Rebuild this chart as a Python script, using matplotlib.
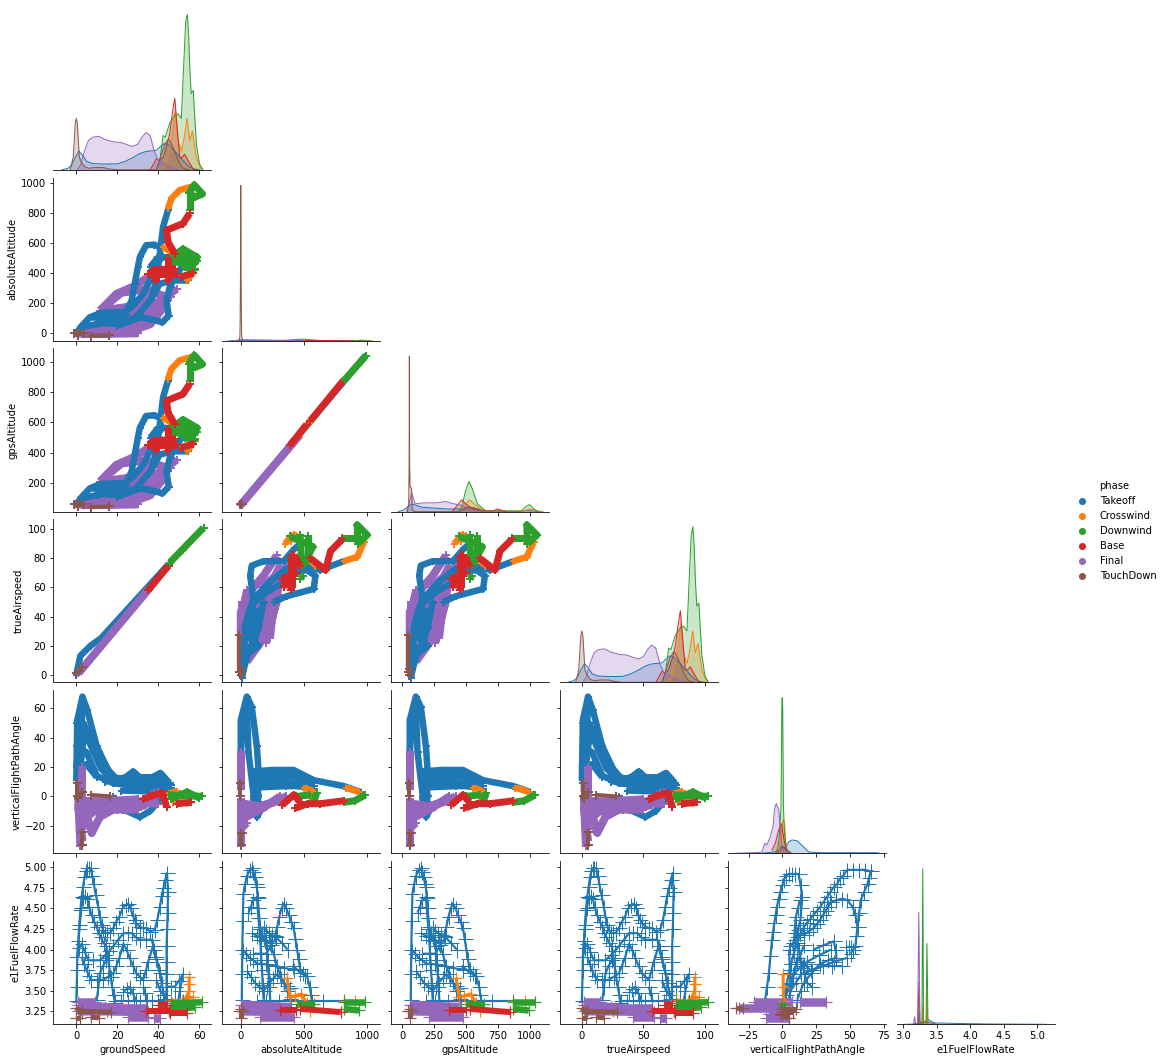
import matplotlib
matplotlib.use("Agg")
import matplotlib.pyplot as plt
from matplotlib.lines import Line2D

PHASES = ["Takeoff", "Crosswind", "Downwind", "Base", "Final", "TouchDown"]
COLORS = ["#1f77b4", "#ff7f0e", "#2ca02c", "#d62728", "#9467bd", "#8c564b"]
VARS = ["groundSpeed", "absoluteAltitude", "gpsAltitude", "trueAirspeed", "verticalFlightPathAngle", "e1FuelFlowRate"]
XTICKS = [[0, 20, 40, 60], [0, 500, 1000], [0, 250, 500, 750, 1000], [0, 50, 100], [-25, 0, 25, 50, 75], [3.0, 3.5, 4.0, 4.5, 5.0]]
YTICKS = [[], [0, 200, 400, 600, 800, 1000], [200, 400, 600, 800, 1000], [0, 20, 40, 60, 80, 100], [-20, 0, 20, 40, 60], [3.25, 3.5, 3.75, 4.0, 4.25, 4.5, 4.75, 5.0]]
XLIMS = [(-11.2, 65.8), (-146, 1103), (-87, 1155), (-17.9, 110.4), (-40, 76.9), (2.9, 5.26)]
YLIMS = [(0, 105), (-50.7, 1033), (11, 1088.6), (-5.2, 107), (-38.8, 72.5), (3.092, 5.077)]
GPS_OFFSET = 58
TAS_PER_GS = 5 / 3

# ---- density curves (x, relative density) ----
kde_gs_takeoff = [(-7, 0), (-4, 1), (-2.3, 3), (-0.5, 8), (1.3, 12), (3, 9.5), (5, 5.5), (8, 4), (14, 3.7), (20, 3.8), (24, 5.5), (27.7, 8), (31, 10.5), (34, 11.8), (39, 12.5), (41, 15), (43, 17), (45, 16), (47, 13.5), (50, 9), (52, 6), (55, 2), (57, 0.6), (60, 0)]
kde_gs_crosswind = [(42.3, 0), (44, 5), (45.5, 12), (47, 25), (48.3, 38), (49.5, 19), (51.2, 12), (52.5, 20), (54, 33), (55.3, 19), (56.6, 25), (58.5, 8), (60.5, 1), (61.5, 0)]
kde_gs_downwind = [(39, 0), (40.7, 6), (42.3, 22), (43.4, 21), (45.5, 30), (48, 35), (49.6, 36), (51.2, 33), (52.3, 66), (53.3, 95), (54.1, 100), (54.8, 85), (55.3, 66), (56, 49), (57, 51), (58.5, 17), (60, 4), (61.7, 0)]
kde_gs_base = [(36, 0), (37.4, 3), (39, 7), (40.5, 6), (42.3, 8), (44, 15), (45.5, 23), (47, 38), (48, 46), (49, 30), (50.4, 8), (51.5, 8), (52.8, 10), (55.3, 4), (57, 0.5), (58, 0)]
kde_gs_final = [(0.5, 0), (2, 3), (3, 8), (4.5, 14), (6, 19), (8, 21), (11, 21.5), (14, 19.5), (18, 18), (22, 17.5), (25, 16), (27.5, 15), (30, 16.5), (32, 21), (34, 24), (36, 22), (38, 12), (40, 6), (42, 5), (44, 3), (47, 1), (50, 0)]
kde_gs_touchdown = [(-3, 0), (-1.5, 8), (-0.5, 30), (0, 33), (0.5, 30), (1.5, 8), (2.5, 5), (4, 2), (6, 1), (9, 1.5), (13, 1.5), (16, 0.5), (20, 0), (39, 0), (41, 8), (43, 16), (45, 20), (47, 15), (50, 5), (52, 1), (55, 0)]

kde_alt_takeoff = [(-100, 0), (0, 0.5), (300, 0.3), (1000, 0.2), (1040, 0)]
kde_alt_crosswind = [(400, 0), (500, 0.3), (700, 0.1), (900, 0.1), (950, 0.6), (1040, 0)]
kde_alt_downwind = [(300, 0), (450, 1), (500, 1.2), (600, 0.5), (700, 0.1), (850, 0.1), (950, 0.4), (1020, 0)]
kde_alt_base = [(300, 0), (400, 0.5), (500, 0.3), (800, 0.1), (900, 0)]
kde_alt_final = [(-60, 0), (0, 0.9), (200, 0.6), (400, 0.4), (500, 0)]
kde_alt_touchdown = [(-15, 0), (-7, 3), (-5, 13), (-2.5, 40), (0, 100), (2.5, 40), (5, 13), (7, 3), (15, 0)]

kde_gps_takeoff = [(-32, 0), (8, 1), (74, 5), (153, 2.8), (352, 1.7), (484, 1.7), (524, 3), (590, 1.7), (670, 0.4), (881, 0.2), (1000, 0.6), (1090, 0)]
kde_gps_crosswind = [(444, 0), (484, 4), (529, 7.5), (563, 5), (616, 1.7), (656, 0.2), (960, 0.6), (1000, 1.7), (1066, 0.4), (1105, 0)]
kde_gps_downwind = [(444, 0), (471, 4), (497, 13.5), (524, 19.4), (550, 14.6), (590, 5), (656, 0.4), (934, 0.2), (966, 3), (1000, 4.5), (1034, 1.7), (1066, 0)]
kde_gps_base = [(392, 0), (431, 4), (466, 7.5), (497, 5), (550, 1.7), (616, 0.4), (709, 0.4), (749, 1.7), (788, 0.6), (815, 0)]
kde_gps_final = [(34, 0), (74, 12), (100, 5), (167, 5.6), (272, 5.6), (339, 6.5), (405, 5), (470, 4), (537, 1), (616, 0)]
kde_gps_touchdown = [(40, 0), (50, 5), (53, 30), (55, 100), (57, 30), (60, 16), (72, 15), (78, 2), (90, 0), (450, 0), (500, 2.5), (560, 2.5), (640, 0)]

kde_vfpa_takeoff = [(-16, 0), (-4, 1), (0, 5), (2.3, 3), (4.7, 7.5), (7.2, 8.6), (11, 8), (14.6, 5), (19.6, 0.8), (28, 0.4), (70, 0.4), (72, 0)]
kde_vfpa_crosswind = [(-2.7, 0), (-1.5, 8.6), (0.5, 21.5), (1.5, 20), (2.7, 4), (4.7, 0)]
kde_vfpa_downwind = [(-5, 0), (-3, 5), (-2, 14), (-1, 30), (-0.4, 95), (-0.1, 100), (0.2, 95), (0.8, 30), (1.5, 14), (3, 3), (5, 0)]
kde_vfpa_base = [(-7.7, 2), (-5.2, 6.5), (-2.7, 15), (-0.7, 19), (1, 10), (2.7, 2), (6, 0)]
kde_vfpa_final = [(-35, 0), (-16, 0.6), (-15, 1), (-13, 6.5), (-11.4, 5.4), (-9, 10.7), (-7, 17), (-5.7, 29), (-4.5, 32), (-2.7, 28), (-1.5, 15), (0, 3), (3.5, 1), (7, 0)]
kde_vfpa_touchdown = [(-4, 0), (0, 4), (3.5, 2), (7, 0)]

kde_fuel_takeoff = [(3.02, 0), (3.25, 0.2), (3.3, 1), (3.36, 3.4), (3.46, 0.9), (3.75, 0.6), (4.25, 0.2), (5.14, 0)]
kde_fuel_crosswind = [(3.27, 0), (3.285, 0), (3.292, 12), (3.3, 0), (3.345, 0), (3.355, 20), (3.365, 0), (3.4, 0)]
kde_fuel_downwind = [(3.225, 0), (3.237, 9), (3.25, 0), (3.28, 0), (3.292, 100), (3.304, 0), (3.34, 0), (3.355, 52), (3.37, 0)]
kde_fuel_base = [(3.22, 0), (3.235, 27), (3.25, 0), (3.3, 0)]
kde_fuel_final = [(3.155, 0), (3.17, 5), (3.185, 0), (3.215, 0), (3.233, 72), (3.25, 0)]
kde_fuel_touchdown = [(3.15, 0), (3.2, 0.5), (3.3, 1.5), (3.4, 1), (3.5, 0)]

# ---- strands ----
gs_alt_takeoff = [
    [(0.5, 5), (2, 40), (6.6, 107), (12, 135), (18, 140), (24, 140), (27, 218), (28.5, 330), (30, 440), (31, 507), (34, 584), (38, 589), (42, 562)],
    [(2, 40), (10, 62), (18, 84), (27.7, 184), (32.6, 262), (37.4, 395), (39, 495), (44, 507)],
    [(37, 250), (39, 350), (40.7, 529), (42.3, 707), (44.7, 818)],
    [(12, 70), (22, 60), (31, 107), (36, 96), (42, 73), (45, 118), (44, 218), (45.5, 307), (49, 395), (52, 451)],
    [(20, 51), (29, 107), (36, 218), (40.7, 329), (47, 351), (54.5, 351)],
    [(6.6, 107), (14, 100), (20, 100), (24, 120)],
    [(36, 440), (39, 490), (42, 500)],
]
gs_alt_crosswind = [[(44.7, 829), (46.4, 895), (50.4, 951), (56, 973)], [(42.3, 573), (45, 550), (49, 518)], [(54, 351), (57.7, 418)], [(47, 500), (52, 510)]]
gs_alt_downwind = [[(55.3, 818), (55.3, 929)], [(55.3, 940), (57.5, 985), (61.5, 925), (58, 905), (55, 930)], [(46, 500), (52, 560), (59, 505), (53, 440), (58, 430)], [(46, 520), (55, 500), (58, 470), (50, 490), (57.5, 418)], [(47, 470), (59, 480)], [(50, 540), (56, 450)]]
gs_alt_base = [[(55.3, 796), (52, 729), (44, 684), (44.7, 607), (48, 529)], [(35, 395), (49, 395)], [(39, 350), (39, 420)], [(44.5, 350), (44.5, 500)], [(51, 375), (57, 400)], [(37, 420), (48, 430)]]
gs_alt_final = [
    [(0, 0), (16, -4), (29, 29), (39, 151), (45.5, 262), (49, 296)],
    [(11.5, 151), (19.6, 262), (29, 318), (35, 373)],
    [(11.5, 151), (24, 173), (27.7, 140), (39, 307), (38, 380)],
    [(3, 7), (18, 62), (31, 173), (39, 307)],
    [(27.7, 20), (36, 60), (43, 180)],
    [(12, 30), (25, 50), (33, 110)],
    [(14, 180), (22, 270), (33, 290), (45, 240)],
    [(22, 60), (30, 100), (38, 200), (46, 240)],
    [(3, -5), (30, 0)],
]
gs_alt_touchdown = [[(1, -10), (1, 10)], [(-1, 3), (4, 3)], [(7, -17), (16, -12)]]

alt_tas_takeoff = [
    [(10, -2), (21, 3), (34, 34), (100, 52), (74, 68), (87, 75), (180, 78), (339, 78), (418, 86), (458, 89)],
    [(21, 3), (61, 16), (140, 32), (180, 50)],
    [(100, 40), (74, 25), (140, 20), (50, 14)],
    [(110, 45), (130, 30), (95, 18)],
    [(100, 52), (233, 64), (365, 73), (484, 75), (630, 72), (815, 78)],
    [(259, 50), (365, 54), (577, 59), (590, 68), (520, 72), (418, 70)],
    [(113, 50), (206, 57), (391, 66)],
    [(30, 30), (70, 45), (140, 55), (230, 60)],
]
alt_tas_crosswind = [[(815, 78), (920, 81), (973, 91)], [(350, 90), (418, 97)], [(540, 80), (590, 75)], [(400, 92), (440, 96)]]
alt_tas_downwind = [[(802, 94), (935, 94)], [(925, 90), (920, 103), (1000, 96), (925, 90)], [(470, 96), (483, 75)], [(390, 95), (570, 88), (500, 76)], [(470, 66), (490, 68)], [(530, 78), (530, 95)]]
alt_tas_base = [[(325, 66), (418, 68)], [(405, 60), (405, 82)], [(550, 80), (670, 72), (710, 85), (802, 93)], [(420, 82), (470, 75)], [(340, 60), (400, 70), (440, 80)], [(395, 58), (395, 80)], [(330, 66), (440, 70)]]
alt_tas_final = [
    [(0, 5), (0, 43), (61, 56), (180, 68), (286, 82)],
    [(48, 9), (180, 25), (233, 39), (259, 55), (339, 66), (390, 78)],
    [(0, 20), (100, 43), (206, 57), (312, 75)],
    [(127, 22), (206, 41), (233, 59), (365, 70)],
    [(0, 30), (30, 50), (50, 58)],
    [(10, 15), (10, 50)],
    [(40, 25), (40, 55)],
    [(0, 10), (60, 35), (130, 45)],
    [(230, 25), (250, 40), (300, 55)],
    [(200, 22), (230, 32), (280, 50), (300, 62)],
    [(170, 60), (300, 70)],
]
alt_tas_touchdown = [[(-12, 27), (-12, 2)], [(-2, 0), (-2, 4)]]

gs_vfpa_takeoff = [
    [(0, 11), (0.5, 52), (3, 68), (5.3, 59), (10, 34), (15.5, 18), (20, 11)],
    [(0, 50), (3.4, 50), (11.5, 25), (18, 14), (24, 8)],
    [(0, 34), (5, 30), (10, 14), (18, 9), (26, 8)],
    [(0, 20), (2, 42), (6, 38), (12, 19), (17, 12)],
    [(1, 10), (3, 60)],
    [(1, 3), (1, 30), (2, 55)],
    [(2, 20), (4, 45), (8, 34), (13, 20)],
    [(1, 15), (5, 22), (10, 13)],
    [(16, 13), (23, 12), (27.7, 17), (31, 13), (37, 13), (41, 16), (45.5, 9)],
    [(14, 10), (24, 13), (33, 11), (42, 11), (46, 6)],
    [(18, 9), (30, 7), (45, 6), (47, 3)],
    [(20, 11), (30, 10), (46, 8)],
    [(22, 4), (44, 3)],
    [(18, 0), (23, -9), (31, -14), (36, -10), (42, 0), (45, 5)],
]
gs_vfpa_crosswind = [[(45, 2), (49, 3.5)], [(47, -3.5), (54, -4.5)]]
gs_vfpa_downwind = [[(45, 1), (61.5, 0)], [(46, -2), (54, 3), (60, -1)]]
gs_vfpa_base = [[(32.6, -2), (36, 0), (42, 2.5), (44, -7)], [(49, -5), (56, -4)]]
gs_vfpa_final = [
    [(1, -2), (2, -34)],
    [(1, -2), (10, -5), (20, -5), (34, -3), (38, 2)],
    [(1, -6), (15, -8), (30, -7), (34, -6)],
    [(2, -12), (5, -14), (10, -9), (16, -9)],
    [(1, -8), (3, -30)],
    [(5, -12), (7.5, -25), (11.5, -14), (18, -9)],
    [(3, 20), (3, 0)],
    [(34, -6), (38, -1), (40, 3)],
    [(2, -3), (40, -5)],
    [(2, -9), (12, -10)],
    [(2, -15), (3, -22)],
    [(4, -8), (20, -9), (30, -9)],
    [(5, -4), (30, -2)],
]
gs_vfpa_touchdown = [[(0.5, 9), (0.5, 0)], [(1, -1), (3, 3)], [(7, 1), (16.5, 0)], [(3, -24), (3, -33)]]

alt_vfpa_takeoff = [
    [(0, 11), (0, 52), (48, 68), (87, 61), (127, 34), (140, 18), (100, 0), (100, -5)],
    [(48, 61), (61, 30), (100, 2)],
    [(0, 30), (30, 60)],
    [(100, 17), (250, 18), (418, 18), (577, 11), (815, 7), (947, 3)],
    [(100, 14), (400, 14), (560, 9)],
    [(100, 12), (390, 8), (577, 5)],
    [(100, 9), (300, 10), (470, 9)],
    [(100, 6), (360, 7), (577, 7)],
    [(100, -9), (127, -14), (167, -8)],
    [(127, 12), (140, 0), (135, -4)],
]
alt_vfpa_crosswind = [[(500, 6), (560, 4), (565, -4)], [(830, 6), (935, 3)]]
alt_vfpa_downwind = [[(440, 0), (550, 1)], [(815, -4), (900, -3), (985, 1)], [(600, 2), (580, -3)]]
alt_vfpa_base = [[(325, -6), (418, 1), (470, -4)], [(430, -8), (530, -5), (630, -5), (815, -3)]]
alt_vfpa_final = [
    [(0, -2), (0, -34)],
    [(20, -5), (180, -7), (360, 0)],
    [(0, -16), (153, -9), (312, 0)],
    [(0, -12), (100, -8), (300, -3)],
    [(0, -22), (48, -18)],
    [(0, 30), (0, 5)],
    [(0, -5), (120, -8), (250, -4), (340, -1)],
    [(0, -10), (60, -12), (200, -7)],
    [(0, -18), (30, -15)],
    [(0, -25), (15, -25)],
]
alt_vfpa_touchdown = [[(-5, 9), (-5, 0)], [(0, -25), (0, -33)]]

gs_fuel_takeoff = [
    [(0, 3.37), (0.2, 3.55), (0.4, 3.75), (0.5, 3.91), (1, 4.1), (1.5, 4.3), (2, 4.48), (2.6, 4.64), (3.3, 4.76), (4, 4.88), (4.6, 4.95), (5.3, 4.99), (6, 4.99), (7, 4.99), (7.8, 4.9), (8.5, 4.8), (9.6, 4.66), (10.7, 4.52), (11.5, 4.4), (12.3, 4.3), (13, 4.24), (14, 4.2), (15, 4.2), (16.5, 4.2), (18, 4.26), (19.5, 4.34), (21, 4.4), (22.5, 4.5), (24, 4.54), (25.3, 4.56), (26.5, 4.5), (27.5, 4.42), (28.5, 4.36), (29.3, 4.32), (31, 4.28), (32.6, 4.26), (34, 4.26), (36, 4.22), (38.2, 4.24), (39.5, 4.36), (40.7, 4.52), (41.6, 4.65), (42.5, 4.75), (43.4, 4.85), (44.2, 4.93), (44.7, 4.7), (44.5, 4.45), (44.3, 4.25), (44, 4.04), (44, 3.85), (44, 3.7), (44, 3.55), (44, 3.39)],
    [(0.5, 3.91), (1.5, 4.25), (2.4, 4.5), (3.4, 4.63), (4.3, 4.65), (5.3, 4.62), (6.3, 4.52), (7.5, 4.42), (8.7, 4.34), (9.9, 4.28), (11, 4.2), (12, 4.15), (13.3, 4.08), (14.7, 4.04), (15.4, 3.9), (16, 3.8), (16.7, 3.67), (17.5, 3.55), (18.2, 3.45), (18.8, 3.35)],
    [(0.5, 3.91), (1.5, 4.02), (2.6, 4.07), (4.2, 3.97), (5.8, 3.87), (8, 3.87), (11.5, 3.87), (14, 3.93), (16, 3.98), (18, 4.04), (20.5, 4.12), (23, 4.2), (25, 4.2), (27, 4.2), (29, 4.15), (31, 4.12), (34, 4.12), (36.8, 4.12), (38, 4.0), (39, 3.91), (40.5, 3.75), (42, 3.6)],
    [(2.6, 3.91), (3.8, 3.83), (5, 3.75), (6.2, 3.68), (7.4, 3.63), (10, 3.63), (13, 3.63), (15.5, 3.67), (18, 3.71), (19.5, 3.8), (21, 3.9), (23, 4.07), (24.5, 4.0), (26, 3.9), (27.7, 3.8), (29.3, 3.71), (31, 3.67), (32.6, 3.63), (34, 3.75), (35, 3.85), (37.4, 4.04), (39, 3.88), (40.7, 3.71), (42, 3.55), (43, 3.4)],
    [(19, 3.37), (22, 3.37), (25, 3.37), (28, 3.37), (31, 3.37), (34, 3.37), (37, 3.37), (40, 3.37), (44, 3.37), (48, 3.37), (52, 3.37)],
    [(23, 3.49), (24.5, 3.52), (26, 3.55), (27.5, 3.47), (29, 3.39)],
    [(44, 3.55), (46, 3.55), (48, 3.55), (50, 3.62), (52, 3.7), (50.5, 3.5), (49.6, 3.37)],
    [(10, 3.39), (10.8, 3.55), (11.5, 3.71), (13, 3.8), (14.7, 3.87)],
    [(32.6, 3.55), (33.5, 3.47), (34.3, 3.39)],
    [(39, 3.63), (41, 3.5), (42.5, 3.45), (44, 3.39)],
]
gs_fuel_crosswind = [[(46, 3.39), (51.5, 3.37)], [(55, 3.67), (55, 3.58), (55, 3.5), (53, 3.39), (55, 3.42), (57, 3.42)]]
gs_fuel_downwind = [[(45, 3.27), (58, 3.3)], [(46, 3.35), (61.5, 3.36)]]
gs_fuel_base = [[(34, 3.25), (45, 3.25)], [(45.5, 3.23), (54, 3.23)], [(40, 3.33), (44, 3.33)]]
gs_fuel_final = [[(1, 3.33), (14, 3.3), (34, 3.25)], [(1, 3.29), (34, 3.29)], [(1, 3.25), (15, 3.25), (35, 3.24)], [(1, 3.36), (9, 3.36)], [(25, 3.18), (35, 3.18)], [(38, 3.17), (41, 3.17)]]
gs_fuel_touchdown = [[(0, 3.29), (2.6, 3.23)], [(2.6, 3.25), (17, 3.24)], [(7, 3.18), (11, 3.17)], [(0, 3.17), (2, 3.17)]]

alt_fuel_takeoff = [
    [(8, 3.39), (10, 3.7), (12, 4.0), (16, 4.35), (21, 4.68), (35, 4.8), (50, 4.9), (70, 4.97), (87, 4.99), (100, 4.94), (110, 4.88), (120, 4.8), (127, 4.76), (134, 4.63), (140, 4.5), (147, 4.38), (153, 4.28), (166, 4.2), (180, 4.15), (193, 4.1), (206, 4.04), (213, 3.87), (220, 3.7), (226, 3.55), (233, 3.39)],
    [(61, 4.45), (80, 4.52), (100, 4.6), (127, 4.64), (134, 4.5), (140, 4.38), (147, 4.25), (153, 4.12), (160, 3.95), (168, 3.75), (174, 3.57), (180, 3.39)],
    [(180, 4.28), (200, 4.23), (225, 4.2), (248, 4.18), (272, 4.16), (288, 4.28), (305, 4.4), (322, 4.5), (339, 4.56), (360, 4.5), (380, 4.42), (400, 4.34), (418, 4.26), (432, 4.13), (445, 4.0), (458, 3.88), (470, 3.76), (495, 3.72), (523, 3.68), (545, 3.55), (555, 3.45), (563, 3.37)],
    [(21, 3.99), (45, 3.95), (70, 3.9), (100, 3.87), (127, 3.83), (200, 3.82), (270, 3.8), (340, 3.78), (418, 3.75), (415, 3.8), (470, 3.72), (510, 3.68)],
    [(87, 4.2), (125, 4.17), (160, 4.15), (200, 4.12), (233, 4.08), (260, 3.95), (286, 3.8), (310, 3.7), (340, 3.6), (365, 3.5), (392, 3.4)],
    [(48, 3.74), (80, 3.67), (110, 3.6), (145, 3.55), (180, 3.5), (205, 3.55), (230, 3.6), (258, 3.65), (286, 3.7), (315, 3.65), (340, 3.6), (365, 3.56), (392, 3.53)],
    [(127, 3.37), (200, 3.37), (300, 3.37), (400, 3.37), (500, 3.37), (650, 3.37), (815, 3.37)],
    [(100, 3.95), (150, 3.95), (200, 3.95), (240, 4.05), (280, 4.15), (325, 4.08), (370, 4.0)],
]
alt_fuel_crosswind = [[(815, 3.38), (905, 3.38)], [(365, 3.66), (378, 3.52), (390, 3.42), (430, 3.44), (480, 3.46), (520, 3.35), (550, 3.25)]]
alt_fuel_downwind = [[(445, 3.34), (580, 3.34)], [(815, 3.28), (935, 3.26)], [(815, 3.36), (985, 3.36)]]
alt_fuel_base = [[(310, 3.26), (440, 3.26)], [(470, 3.28), (790, 3.24)]]
alt_fuel_final = [[(0, 3.33), (392, 3.3)], [(0, 3.25), (392, 3.24)], [(150, 3.18), (420, 3.18)]]
alt_fuel_touchdown = [[(0, 3.28), (0, 3.17)], [(-15, 3.25), (20, 3.25)]]

vfpa_fuel_takeoff = [
    [(-12.7, 3.39), (-11.3, 3.55), (-10, 3.71), (-8.8, 3.92), (-7.7, 4.12), (-6.8, 4.22), (-6, 4.32), (-5, 4.42), (-4, 4.52), (-2.8, 4.62), (-1.5, 4.7), (0, 4.78), (1, 4.85), (3, 4.9), (4.7, 4.92), (7, 4.92), (9.5, 4.92), (12, 4.92), (13.5, 4.78), (14.6, 4.64), (14, 4.5), (13.4, 4.36), (11.5, 4.24), (9.7, 4.12), (8, 4.08), (6, 4.04)],
    [(65.5, 4.95), (61, 4.97), (57, 4.97), (52, 4.97), (48, 4.97), (45, 4.9), (43, 4.87), (40.5, 4.8), (38, 4.76), (35.5, 4.7), (33, 4.64), (30.5, 4.58), (28, 4.52), (25.5, 4.47), (23, 4.42), (20.5, 4.37), (18, 4.32), (15.5, 4.26), (13.4, 4.2), (11, 4.08), (8.4, 3.95), (6.5, 3.83), (4.7, 3.71), (3, 3.55), (1, 3.39)],
    [(65.5, 4.95), (64, 4.87), (63, 4.8), (60.5, 4.7), (58, 4.6), (56.8, 4.44), (55.6, 4.28), (54.8, 4.16), (54, 4.04), (52.3, 4.0), (50.6, 3.95)],
    [(55.6, 4.28), (54, 4.42), (52, 4.52), (48, 4.6), (44.4, 4.62), (40, 4.6), (36, 4.58), (34, 4.52), (32, 4.47), (30, 4.42), (28, 4.36), (25.5, 4.31), (23, 4.26), (19.5, 4.22), (16, 4.18), (13.4, 4.2)],
    [(23, 4.0), (30, 4.05), (38, 4.1), (39.5, 4.0), (40, 3.9), (34, 3.87), (28, 3.83), (22, 3.72), (16, 3.6), (13.5, 3.5), (11, 3.39)],
    [(4.7, 3.39), (8, 3.65), (11, 3.9), (16, 3.82), (21, 3.75), (30, 3.8), (38, 3.85), (48, 3.9)],
    [(1, 3.39), (6, 3.6), (11, 3.85), (16, 4.05)],
    [(5, 4.0), (5.5, 3.75), (6, 3.5), (10, 3.6), (14, 3.7), (22, 3.75), (30, 3.8), (37, 3.8), (44, 3.8)],
    [(10, 4.3), (11, 4.15), (12, 4.0), (15, 3.8), (18, 3.6), (22, 3.55)],
    [(13, 4.6), (11.5, 4.5), (10, 4.4), (9, 4.2), (8, 4.0)],
    [(3, 3.45), (5.5, 3.58), (8, 3.7), (13, 3.78), (18, 3.85), (27, 3.93), (36, 4.0)],
    [(47, 4.03), (49, 4.03), (51, 4.03)],
]
vfpa_fuel_crosswind = [[(0.5, 3.7), (0.7, 3.55), (1, 3.37)]]
vfpa_fuel_downwind = [[(0, 3.34), (1, 3.3)]]
vfpa_fuel_base = [[(-1, 3.22), (1, 3.24)]]
vfpa_fuel_final = [[(-21, 3.36), (7, 3.36)], [(-32, 3.29), (0, 3.29)], [(-12, 3.17), (5, 3.17)], [(-10, 3.22), (5, 3.24)], [(13, 3.36), (32, 3.36)]]
vfpa_fuel_touchdown = [[(-1, 3.28), (10, 3.28)], [(0, 3.24), (8, 3.24)], [(-1, 3.2), (5, 3.17)], [(-34, 3.29), (-29, 3.29)]]

abs_gps_takeoff = [[(0, 60), (985, 1040)]]
abs_gps_crosswind = [[(455, 510), (580, 640)]]
abs_gps_downwind = [[(820, 880), (990, 1040)]]
abs_gps_base = [[(390, 450), (520, 585)], [(550, 610), (815, 880)]]
abs_gps_final = [[(0, 55), (470, 520)]]
abs_gps_touchdown = [[(-8, 64), (8, 64)]]

gs_tas_takeoff = [[(0, 0), (2, 13), (7, 20), (12, 25), (45, 76)]]
gs_tas_crosswind = [[(52, 86), (55, 91)]]
gs_tas_downwind = [[(45.5, 77), (62, 101)]]
gs_tas_base = [[(35, 58), (45, 75)]]
gs_tas_final = [[(1, 1), (36, 60)]]
gs_tas_touchdown = [[(0, 1), (3, 5)]]

KDE_GS = [kde_gs_takeoff, kde_gs_crosswind, kde_gs_downwind, kde_gs_base, kde_gs_final, kde_gs_touchdown]
KDE_ALT = [kde_alt_takeoff, kde_alt_crosswind, kde_alt_downwind, kde_alt_base, kde_alt_final, kde_alt_touchdown]
KDE_GPS = [kde_gps_takeoff, kde_gps_crosswind, kde_gps_downwind, kde_gps_base, kde_gps_final, kde_gps_touchdown]
KDE_VFPA = [kde_vfpa_takeoff, kde_vfpa_crosswind, kde_vfpa_downwind, kde_vfpa_base, kde_vfpa_final, kde_vfpa_touchdown]
KDE_FUEL = [kde_fuel_takeoff, kde_fuel_crosswind, kde_fuel_downwind, kde_fuel_base, kde_fuel_final, kde_fuel_touchdown]
GS_ALT = [gs_alt_takeoff, gs_alt_crosswind, gs_alt_downwind, gs_alt_base, gs_alt_final, gs_alt_touchdown]
ALT_TAS = [alt_tas_takeoff, alt_tas_crosswind, alt_tas_downwind, alt_tas_base, alt_tas_final, alt_tas_touchdown]
GS_VFPA = [gs_vfpa_takeoff, gs_vfpa_crosswind, gs_vfpa_downwind, gs_vfpa_base, gs_vfpa_final, gs_vfpa_touchdown]
ALT_VFPA = [alt_vfpa_takeoff, alt_vfpa_crosswind, alt_vfpa_downwind, alt_vfpa_base, alt_vfpa_final, alt_vfpa_touchdown]
GS_FUEL = [gs_fuel_takeoff, gs_fuel_crosswind, gs_fuel_downwind, gs_fuel_base, gs_fuel_final, gs_fuel_touchdown]
ALT_FUEL = [alt_fuel_takeoff, alt_fuel_crosswind, alt_fuel_downwind, alt_fuel_base, alt_fuel_final, alt_fuel_touchdown]
VFPA_FUEL = [vfpa_fuel_takeoff, vfpa_fuel_crosswind, vfpa_fuel_downwind, vfpa_fuel_base, vfpa_fuel_final, vfpa_fuel_touchdown]
ABS_GPS = [abs_gps_takeoff, abs_gps_crosswind, abs_gps_downwind, abs_gps_base, abs_gps_final, abs_gps_touchdown]
GS_TAS = [gs_tas_takeoff, gs_tas_crosswind, gs_tas_downwind, gs_tas_base, gs_tas_final, gs_tas_touchdown]

W, H = 1165, 1062
COL_L = [53.3, 222.3, 391.3, 559.8, 728.3, 896.5]
ROW_T = [6.5, 177.7, 348.3, 519, 690, 861]
AX_W, AX_H = 158, 163.3

fig = plt.figure(figsize=(W / 72, H / 72), dpi=72)
axes = {}
for r in range(6):
    for c in range(r + 1):
        ax = fig.add_axes([COL_L[c] / W, 1 - (ROW_T[r] + AX_H) / H, AX_W / W, AX_H / H])
        axes[r, c] = ax
        ax.spines["top"].set_visible(False)
        ax.spines["right"].set_visible(False)
        ax.set_xlim(XLIMS[c])
        ax.set_ylim(YLIMS[r])
        ax.set_xticks(XTICKS[c])
        if r != 5:
            ax.tick_params(labelbottom=False)
        else:
            ax.set_xlabel(VARS[c])
        if r == c:
            ax.spines["left"].set_visible(False)
            ax.set_yticks([])
        else:
            ax.set_yticks(YTICKS[r])
            if c == 0:
                ax.set_ylabel(VARS[r])
            else:
                ax.tick_params(labelleft=False)


def draw_kde(ax, curves, xscale=1.0):
    for pts, col in zip(curves, COLORS):
        xs = [p[0] * xscale for p in pts]
        ys = [p[1] for p in pts]
        ax.fill_between(xs, ys, 0, color=col, alpha=0.25, lw=0)
        ax.plot(xs, ys, color=col, lw=1.0)
    ax.set_ylim(0, 105)


def draw_scatter(ax, groups, order, lws, ms, mews, fx=lambda v: v, fy=lambda v: v):
    for i in order:
        for strand in groups[i]:
            xs = [fx(p[0]) for p in strand]
            ys = [fy(p[1]) for p in strand]
            ax.plot(xs, ys, color=COLORS[i], lw=lws[i], marker="+", ms=ms[i], mew=mews[i],
                    solid_capstyle="butt", solid_joinstyle="round")


def gps(v):
    return v + GPS_OFFSET


def tas(v):
    return v * TAS_PER_GS


ORDER_A = [4, 0, 1, 2, 3, 5]
ORDER_B = [0, 4, 1, 2, 3, 5]
THICK = ([6.5, 6.5, 7, 7, 8, 4], [7, 7, 8, 8, 8, 9], [2, 2, 2, 2, 2, 2])
FUEL = ([2.2, 3, 6.5, 6, 8.5, 5], [15, 12, 12, 12, 12, 12], [1, 1.2, 1.2, 1.2, 1.2, 1.2])

draw_kde(axes[0, 0], KDE_GS)
draw_kde(axes[1, 1], KDE_ALT)
draw_kde(axes[2, 2], KDE_GPS)
draw_kde(axes[3, 3], KDE_GS, TAS_PER_GS)
draw_kde(axes[4, 4], KDE_VFPA)
draw_kde(axes[5, 5], KDE_FUEL)

draw_scatter(axes[1, 0], GS_ALT, ORDER_A, *THICK)
draw_scatter(axes[2, 0], GS_ALT, ORDER_A, *THICK, fy=gps)
draw_scatter(axes[2, 1], ABS_GPS, [0, 4, 1, 3, 2, 5], *THICK)
draw_scatter(axes[3, 0], GS_TAS, [0, 4, 1, 3, 2, 5], *THICK)
draw_scatter(axes[3, 1], ALT_TAS, ORDER_A, *THICK)
draw_scatter(axes[3, 2], ALT_TAS, ORDER_A, *THICK, fx=gps)
draw_scatter(axes[4, 0], GS_VFPA, ORDER_B, *THICK)
draw_scatter(axes[4, 1], ALT_VFPA, ORDER_B, *THICK)
draw_scatter(axes[4, 2], ALT_VFPA, ORDER_B, *THICK, fx=gps)
draw_scatter(axes[4, 3], GS_VFPA, ORDER_B, *THICK, fx=tas)
draw_scatter(axes[5, 0], GS_FUEL, ORDER_B, *FUEL)
draw_scatter(axes[5, 1], ALT_FUEL, ORDER_B, *FUEL)
draw_scatter(axes[5, 2], ALT_FUEL, ORDER_B, *FUEL, fx=gps)
draw_scatter(axes[5, 3], GS_FUEL, ORDER_B, *FUEL, fx=tas)
draw_scatter(axes[5, 4], VFPA_FUEL, ORDER_B, *FUEL)

for (r, c), ax in axes.items():
    ax.set_xlim(XLIMS[c])
    if r != c:
        ax.set_ylim(YLIMS[r])

handles = [Line2D([], [], ls="", marker="o", ms=6, color=col) for col in COLORS]
fig.legend(handles, PHASES, title="phase", loc="center left", bbox_to_anchor=(1063 / W, 0.5), frameon=False)
fig.savefig("out.png", dpi=72)
